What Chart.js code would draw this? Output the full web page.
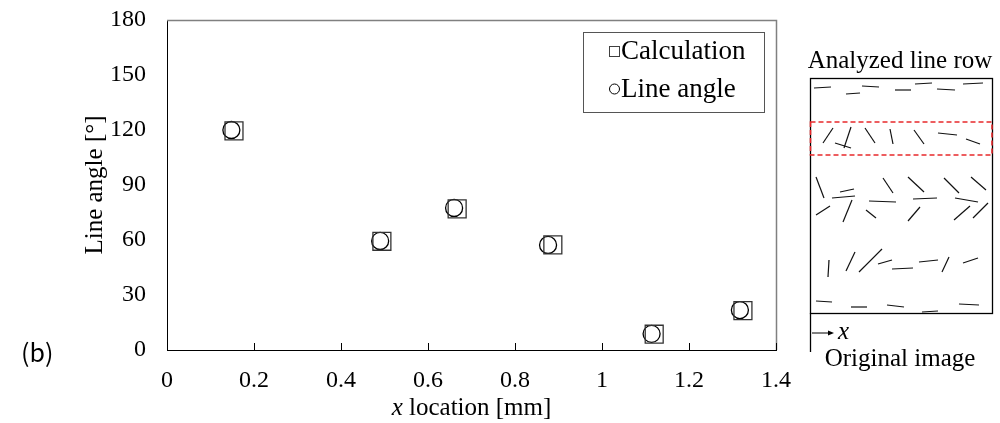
<!DOCTYPE html>
<html>
<head>
<meta charset="utf-8">
<script src="https://cdn.jsdelivr.net/npm/chart.js@4.4.1/dist/chart.umd.min.js"></script>
<style>
html, body { margin: 0; padding: 0; background: #fff; }
#wrap { position: relative; width: 1000px; height: 423px; overflow: hidden; }
#chart { position: absolute; left: 0; top: 0; }
#panel { position: absolute; left: 0; top: 0; }
#tag { position: absolute; left: 21px; top: 339px; font: 25px/25px "Noto Sans CJK JP", sans-serif; color: #000; }
</style>
</head>
<body>
<div id="wrap">
  <canvas id="chart" width="1000" height="423"></canvas>
  <svg id="panel" width="1000" height="423"></svg>
  <div id="tag">(b)</div>
</div>
<script>
// Calculation (squares) and measured line angle (circles)
var calcX = [0.154, 0.494, 0.667, 0.887, 1.120, 1.324];
var calcY = [119.5, 59.3, 77.0, 57.3, 8.6, 21.5];
var lineX = [0.148, 0.490, 0.660, 0.876, 1.114, 1.317];
var lineY = [120.0, 59.5, 77.5, 57.3, 8.8, 21.8];

var xTickLabels = ['0', '0.2', '0.4', '0.6', '0.8', '1', '1.2', '1.4'];
var yTickLabels = ['0', '30', '60', '90', '120', '150', '180'];
var seriesNames = ['Calculation', 'Line angle'];

var SERIF = '"Liberation Serif", "Times New Roman", serif';

function _points(xs, ys) {
    return xs.map(function(x, i) { return { x: x, y: ys[i] }; });
}

// zero out label overflow padding so the plot area sits exactly where we want
function _noPad(scale) {
    scale.paddingLeft = 0; scale.paddingRight = 0;
    scale.paddingTop = 0; scale.paddingBottom = 0;
}

var framePlugin = {
    id: 'frame',
    afterDraw: function(chart) {
        var ctx = chart.ctx;
        var a = chart.chartArea;
        var xs = chart.scales.x;
        ctx.save();

        // top + right frame of the plot area
        ctx.strokeStyle = '#808080';
        ctx.lineWidth = 1.5;
        ctx.beginPath();
        ctx.moveTo(a.left, a.top + 0.5);
        ctx.lineTo(a.right + 0.5, a.top + 0.5);
        ctx.lineTo(a.right + 0.5, a.bottom);
        ctx.stroke();

        // inside tick marks on the x axis
        ctx.strokeStyle = '#000';
        ctx.lineWidth = 1;
        ctx.beginPath();
        xs.ticks.forEach(function(t) {
            var px = Math.round(xs.getPixelForValue(t.value)) + 0.5;
            ctx.moveTo(px, a.bottom);
            ctx.lineTo(px, a.bottom - 7);
        });
        ctx.stroke();

        // x axis title: italic x + normal text
        ctx.fillStyle = '#000';
        ctx.textBaseline = 'middle';
        ctx.textAlign = 'left';
        var it = 'italic 25px ' + SERIF;
        var nm = '25px ' + SERIF;
        ctx.font = it;
        var w1 = ctx.measureText('x').width;
        ctx.font = nm;
        var w2 = ctx.measureText(' location [mm]').width;
        var cx = (a.left + a.right) / 2;
        var sx = cx - (w1 + w2) / 2;
        ctx.font = it;
        ctx.fillText('x', sx, 408);
        ctx.font = nm;
        ctx.fillText(' location [mm]', sx + w1, 408);

        // y axis title
        ctx.save();
        ctx.translate(95, (a.top + a.bottom) / 2);
        ctx.rotate(-Math.PI / 2);
        ctx.textAlign = 'center';
        ctx.font = nm;
        ctx.fillText('Line angle [\u00B0]', 0, 0);
        ctx.restore();

        // legend box
        ctx.strokeStyle = '#555';
        ctx.lineWidth = 1;
        ctx.strokeRect(583.5, 32.5, 181, 80);
        ctx.font = '27px ' + SERIF;
        ctx.textAlign = 'left';
        ctx.textBaseline = 'middle';
        ctx.strokeStyle = '#404040';
        ctx.strokeRect(609.5, 46.5, 10, 10);
        ctx.fillText(seriesNames[0], 621, 52);
        ctx.strokeStyle = '#000';
        ctx.beginPath();
        ctx.arc(614.5, 89, 5, 0, Math.PI * 2);
        ctx.stroke();
        ctx.fillText(seriesNames[1], 621, 90);

        ctx.restore();
    }
};

new Chart(document.getElementById('chart'), {
    type: 'scatter',
    data: {
        datasets: [{
            label: seriesNames[0],
            data: _points(calcX, calcY),
            pointStyle: 'rect',
            pointRadius: 12.7,
            pointHoverRadius: 12.7,
            borderColor: '#333',
            backgroundColor: 'rgba(0,0,0,0)',
            pointBorderWidth: 1.3,
        }, {
            label: seriesNames[1],
            data: _points(lineX, lineY),
            pointStyle: 'circle',
            pointRadius: 8.5,
            pointHoverRadius: 8.5,
            borderColor: '#000',
            backgroundColor: 'rgba(0,0,0,0)',
            pointBorderWidth: 1.3,
        }],
    },
    options: {
        responsive: false,
        animation: false,
        devicePixelRatio: 1,
        layout: { padding: { left: 0, right: 224, top: 20, bottom: 0 } },
        plugins: {
            legend: { display: false },
            tooltip: { enabled: false },
        },
        scales: {
            x: {
                type: 'linear',
                min: 0,
                max: 1.4,
                ticks: {
                    stepSize: 0.2,
                    color: '#000',
                    font: { family: SERIF, size: 24 },
                    padding: 16,
                    maxRotation: 0,
                    callback: function(v, i) { return xTickLabels[i]; },
                },
                grid: { display: false, drawTicks: false },
                border: { display: true, color: '#000', width: 1 },
                afterFit: function(scale) { scale.height = 73; _noPad(scale); },
            },
            y: {
                type: 'linear',
                min: 0,
                max: 180,
                ticks: {
                    stepSize: 30,
                    color: '#000',
                    font: { family: SERIF, size: 24 },
                    padding: 21,
                    callback: function(v, i) { return yTickLabels[i]; },
                },
                grid: { display: false, drawTicks: false },
                border: { display: true, color: '#000', width: 1 },
                afterFit: function(scale) { scale.width = 167; _noPad(scale); },
            },
        },
    },
    plugins: [framePlugin],
});

// --- right-hand inset: sketch of the analysed image (illustration only) ---
var insetSegments = [
    [814,88,831,87],[846,94,860,93],[862,86,879,87],[895,90,911,90],[915,84,932,83],[937,89,955,90],[963,84,983,83],
    [823,143,833,128],[844,148,851,127],[835,143,851,148],[865,128,875,143],[890,129,893,144],[914,130,924,144],[938,133,957,135],[966,139,980,144],
    [816,177,824,198],[840,192,854,189],[832,198,855,196],[816,215,830,206],[843,222,852,200],[866,210,876,218],[869,201,896,202],
    [883,178,893,193],[908,177,924,192],[913,199,937,198],[908,221,920,207],[944,178,959,193],[955,198,978,202],[954,220,970,206],
    [971,177,986,190],[973,218,988,203],
    [829,260,828,277],[846,271,855,252],[859,272,882,249],[878,264,892,260],[892,269,913,268],[919,262,938,260],[942,272,949,257],[963,263,978,258],
    [816,301,832,302],[851,307,867,307],[887,305,904,307],[922,312,938,311],[959,304,979,305]
];

(function drawInset() {
    var NS = 'http://www.w3.org/2000/svg';
    var svg = document.getElementById('panel');
    function el(tag, attrs, text) {
        var e = document.createElementNS(NS, tag);
        for (var k in attrs) e.setAttribute(k, attrs[k]);
        if (text) e.textContent = text;
        svg.appendChild(e);
        return e;
    }
    el('text', { x: 900, y: 68, 'text-anchor': 'middle', 'font-family': SERIF, 'font-size': 25 }, 'Analyzed line row');
    el('rect', { x: 810.5, y: 78.5, width: 182, height: 235, fill: 'none', stroke: '#000', 'stroke-width': 1.3 });
    el('line', { x1: 810.5, y1: 313, x2: 810.5, y2: 352, stroke: '#000', 'stroke-width': 1.3 });
    insetSegments.forEach(function(s) {
        el('line', { x1: s[0], y1: s[1], x2: s[2], y2: s[3], stroke: '#111', 'stroke-width': 1.2 });
    });
    el('rect', { x: 810.5, y: 122, width: 181.5, height: 33, fill: 'none', stroke: '#e8282b', 'stroke-width': 1.6, 'stroke-dasharray': '5,3' });
    el('line', { x1: 812, y1: 333, x2: 830, y2: 333, stroke: '#000', 'stroke-width': 1 });
    el('path', { d: 'M834,333 L828,330.5 L828,335.5 Z', fill: '#000' });
    el('text', { x: 838, y: 339, 'font-family': SERIF, 'font-size': 25, 'font-style': 'italic' }, 'x');
    el('text', { x: 900, y: 366, 'text-anchor': 'middle', 'font-family': SERIF, 'font-size': 25 }, 'Original image');
})();
</script>
</body>
</html>
